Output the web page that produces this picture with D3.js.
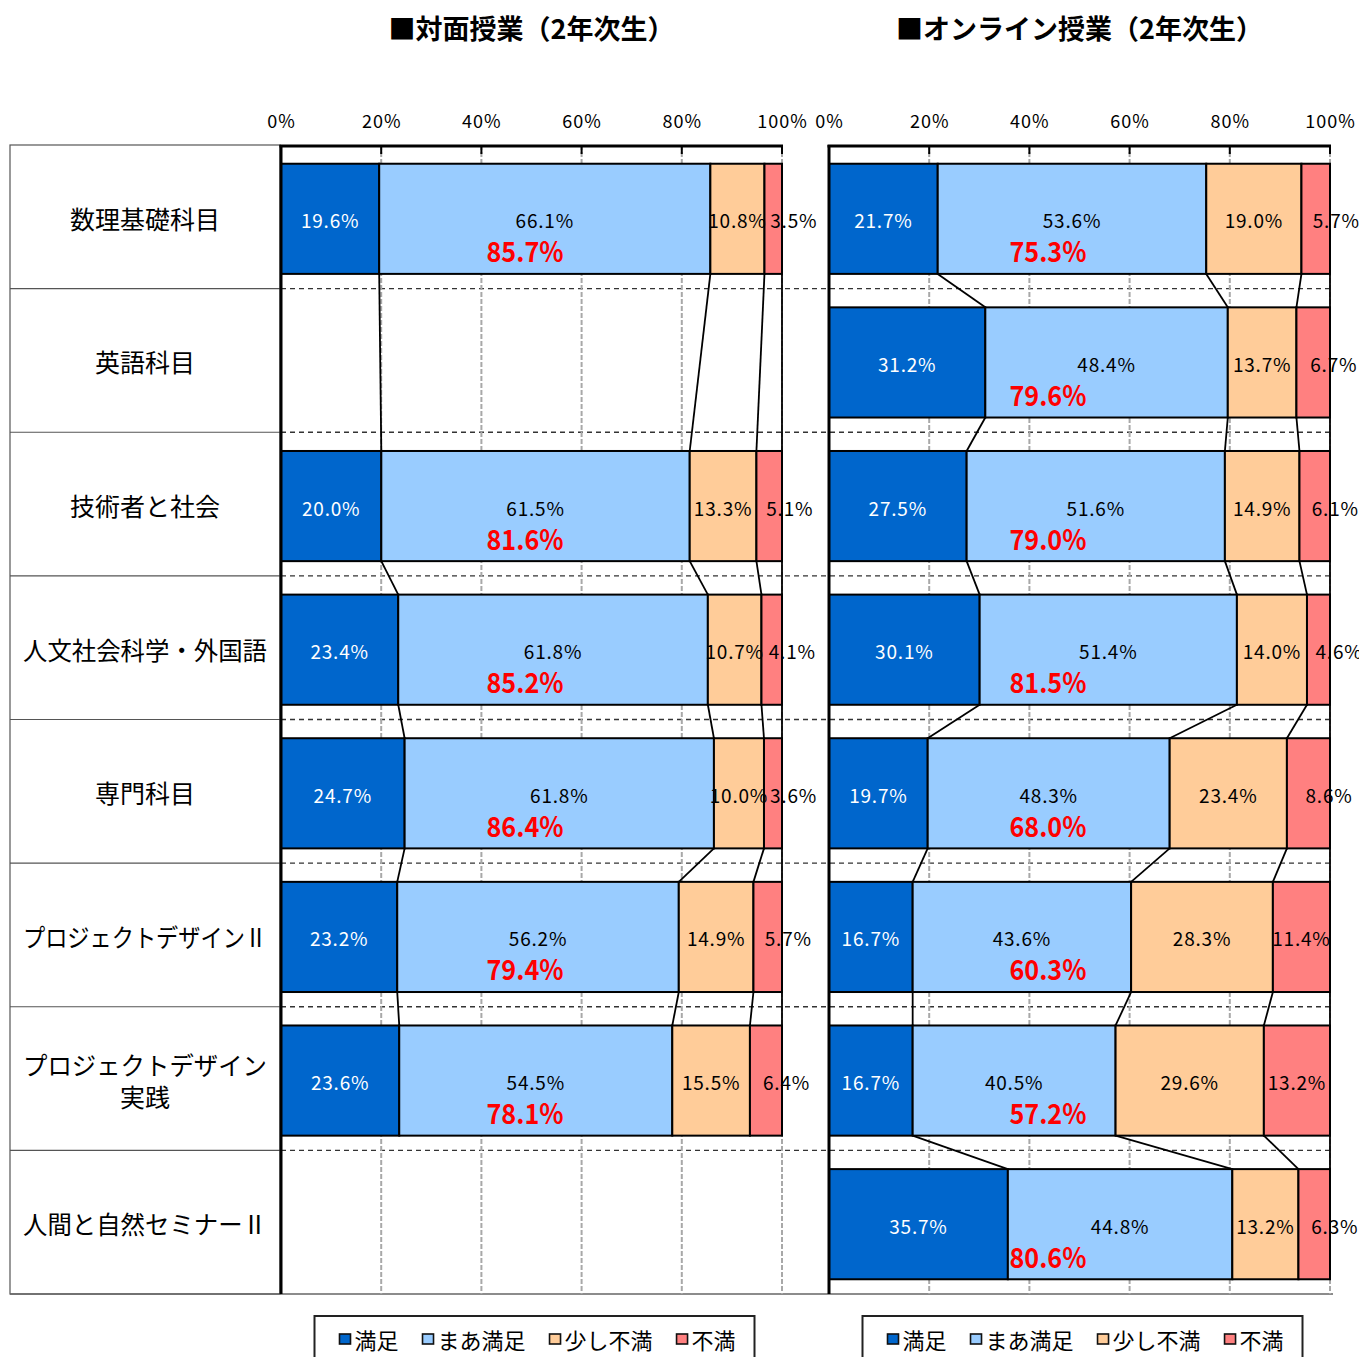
<!DOCTYPE html>
<html>
<head>
<meta charset="utf-8">
<script src="https://cdn.jsdelivr.net/npm/d3@7"></script>
<style>
  body { margin: 0; background: #fff; }
  svg { display: block; }
  text { font-family: "Noto Sans CJK JP", "Noto Sans", sans-serif; }
</style>
</head>
<body>
<svg id="chart" width="1359" height="1357"></svg>
<script>
// ---- data ----
const categories = [
  "数理基礎科目", "英語科目", "技術者と社会", "人文社会科学・外国語",
  "専門科目", "プロジェクトデザインⅡ", "プロジェクトデザイン\n実践", "人間と自然セミナーⅡ"
];
const seriesNames = ["満足", "まあ満足", "少し不満", "不満"];
const seriesColors = ["#0066CC", "#99CCFF", "#FFCC99", "#FF8080"];
const tickValues = [0, 0.2, 0.4, 0.6, 0.8, 1];

// 対面授業 (face-to-face), one row per category, null = no responses
const faceToFace = [
  [19.6, 66.1, 10.8, 3.5],
  null,
  [20.0, 61.5, 13.3, 5.1],
  [23.4, 61.8, 10.7, 4.1],
  [24.7, 61.8, 10.0, 3.6],
  [23.2, 56.2, 14.9, 5.7],
  [23.6, 54.5, 15.5, 6.4],
  null
];
const faceToFaceSatisfied = [85.7, null, 81.6, 85.2, 86.4, 79.4, 78.1, null];

// オンライン授業 (online)
const online = [
  [21.7, 53.6, 19.0, 5.7],
  [31.2, 48.4, 13.7, 6.7],
  [27.5, 51.6, 14.9, 6.1],
  [30.1, 51.4, 14.0, 4.6],
  [19.7, 48.3, 23.4, 8.6],
  [16.7, 43.6, 28.3, 11.4],
  [16.7, 40.5, 29.6, 13.2],
  [35.7, 44.8, 13.2, 6.3]
];
const onlineSatisfied = [75.3, 79.6, 79.0, 81.5, 68.0, 60.3, 57.2, 80.6];

// ---- layout ----
const svg = d3.select("#chart");
const plotTop = 145, plotBottom = 1294;
const tableLeft = 10, tableRight = 280;

const y = d3.scaleBand()
  .domain(categories)
  .range([plotTop + 2, plotBottom + 2])
  .paddingInner(0.233)
  .paddingOuter(0.1165);
const step = y.step();
const bw = y.bandwidth();
const rowEdge = i => plotTop + step * i;

const panels = [
  { title: "■対面授業（2年次生）", values: faceToFace, satisfied: faceToFaceSatisfied,
    range: [281, 782], totalAt: 0.487 },
  { title: "■オンライン授業（2年次生）", values: online, satisfied: onlineSatisfied,
    range: [829, 1330], totalAt: 0.437 }
];

// ---- category table on the left ----
const table = svg.append("g");
table.append("rect")
  .attr("x", tableLeft).attr("y", plotTop)
  .attr("width", tableRight - tableLeft).attr("height", plotBottom - plotTop)
  .attr("fill", "none").attr("stroke", "#555").attr("stroke-width", 1.2);
for (let i = 1; i < categories.length; i++) {
  table.append("line")
    .attr("x1", tableLeft).attr("x2", 281)
    .attr("y1", rowEdge(i)).attr("y2", rowEdge(i))
    .attr("stroke", "#555").attr("stroke-width", 1.2);
}
const maxLabel = tableRight - tableLeft - 26;
categories.forEach((c, i) => {
  const lines = c.split("\n");
  const cy = rowEdge(i) + step / 2 + 1;
  lines.forEach((ln, j) => {
    const t = table.append("text")
      .attr("x", 145)
      .attr("y", cy + (j - (lines.length - 1) / 2) * 32)
      .attr("text-anchor", "middle")
      .attr("dominant-baseline", "central")
      .attr("font-size", 25).attr("fill", "#000")
      .text(ln);
    // keep long names inside their cell
    if (t.node().getComputedTextLength() > maxLabel) {
      t.attr("textLength", maxLabel).attr("lengthAdjust", "spacingAndGlyphs");
    }
  });
});

// dashed separators running across both plots
const sep = svg.append("g");
for (let i = 1; i < categories.length; i++) {
  sep.append("line")
    .attr("x1", 281).attr("x2", 1333)
    .attr("y1", rowEdge(i)).attr("y2", rowEdge(i))
    .attr("stroke", "#333").attr("stroke-width", 1.4)
    .attr("stroke-dasharray", "5,4");
}
// bottom rule
svg.append("line")
  .attr("x1", tableLeft).attr("x2", 1333)
  .attr("y1", plotBottom).attr("y2", plotBottom)
  .attr("stroke", "#666").attr("stroke-width", 1.5);

// ---- panels ----
panels.forEach(p => {
  const x = d3.scaleLinear().domain([0, 1]).range(p.range);
  const g = svg.append("g");
  const cx = (p.range[0] + p.range[1]) / 2;

  // title
  g.append("text")
    .attr("x", cx).attr("y", 27)
    .attr("text-anchor", "middle").attr("dominant-baseline", "central")
    .attr("font-size", 27).attr("font-weight", "bold")
    .text(p.title);

  // vertical gridlines
  g.append("g").selectAll("line")
    .data(tickValues.slice(1))
    .join("line")
    .attr("x1", d => x(d)).attr("x2", d => x(d))
    .attr("y1", plotTop).attr("y2", plotBottom)
    .attr("stroke", "#a8a8a8").attr("stroke-width", 2)
    .attr("stroke-dasharray", "5,2");

  // top axis
  const axis = d3.axisTop(x)
    .tickValues(tickValues)
    .tickFormat(d3.format(".0%"))
    .tickSize(0)
    .tickPadding(0);
  const ax = g.append("g")
    .attr("transform", `translate(0,${plotTop})`)
    .call(axis);
  ax.select(".domain").remove();
  ax.selectAll(".tick text")
    .attr("y", -17)
    .attr("font-size", 18)
    .attr("letter-spacing", 1)
    .attr("font-family", "\"Noto Sans CJK JP\", sans-serif")
    .attr("fill", "#000");

  // stacked 100% bars
  const rows = p.values
    .map((v, i) => ({ cat: categories[i], v, total: p.satisfied[i] }))
    .filter(d => d.v);
  const stack = d3.stack()
    .keys(seriesNames)
    .value((d, key) => d.v[seriesNames.indexOf(key)])
    .offset(d3.stackOffsetExpand);
  const layers = stack(rows);

  const bars = g.append("g");
  layers.forEach((layer, k) => {
    bars.append("g").selectAll("rect")
      .data(layer)
      .join("rect")
      .attr("x", d => x(d[0]))
      .attr("y", d => y(d.data.cat))
      .attr("width", d => x(d[1]) - x(d[0]))
      .attr("height", bw)
      .attr("fill", seriesColors[k])
      .attr("stroke", "#000").attr("stroke-width", 2);
  });

  // series lines joining consecutive bars
  const links = g.append("g");
  layers.forEach(layer => {
    for (let r = 0; r < layer.length - 1; r++) {
      const a = layer[r], b = layer[r + 1];
      links.append("line")
        .attr("x1", x(a[1])).attr("y1", y(a.data.cat) + bw)
        .attr("x2", x(b[1])).attr("y2", y(b.data.cat))
        .attr("stroke", "#000").attr("stroke-width", 1.8);
    }
  });

  // frame: top border, left axis, tick marks
  g.append("line")
    .attr("x1", x(0) - 1.5).attr("x2", x(1) + 1)
    .attr("y1", plotTop + 1).attr("y2", plotTop + 1)
    .attr("stroke", "#000").attr("stroke-width", 3);
  g.append("line")
    .attr("x1", x(0)).attr("x2", x(0))
    .attr("y1", plotTop).attr("y2", plotBottom)
    .attr("stroke", "#000").attr("stroke-width", 3);
  g.append("g").selectAll("line")
    .data(tickValues.slice(1))
    .join("line")
    .attr("x1", d => x(d)).attr("x2", d => x(d))
    .attr("y1", plotTop).attr("y2", plotTop + 9)
    .attr("stroke", "#000").attr("stroke-width", 2);

  // value labels
  const labels = g.append("g");
  layers.forEach((layer, k) => {
    layer.forEach(d => {
      const val = d.data.v[k];
      const x0 = x(d[0]), x1 = x(d[1]);
      const mid = (x0 + x1) / 2;
      // labels of thin end segments start at the segment centre
      const narrow = (k === seriesNames.length - 1) && val < 10;
      labels.append("text")
        .attr("x", narrow ? mid - 3 : mid)
        .attr("y", y(d.data.cat) + bw / 2 + 1)
        .attr("text-anchor", narrow ? "start" : "middle")
        .attr("dominant-baseline", "central")
        .attr("font-size", 19)
        .attr("letter-spacing", 0.8)
        .attr("fill", k === 0 ? "#fff" : "#000")
        .text(val.toFixed(1) + "%");
    });
  });
  // satisfied share (満足 + まあ満足) in red
  rows.forEach(d => {
    const tx = x(p.totalAt), ty = y(d.cat) + bw * 0.785;
    labels.append("text")
      .attr("transform", `translate(${tx},${ty}) scale(0.9,1)`)
      .attr("text-anchor", "middle")
      .attr("dominant-baseline", "central")
      .attr("font-size", 28)
      .attr("font-weight", "bold")
      .attr("fill", "#FF0000")
      .text(d.total.toFixed(1) + "%");
  });

  // legend
  const lg = g.append("g");
  const boxW = 440;
  lg.append("rect")
    .attr("x", cx + 3 - boxW / 2).attr("y", 1316)
    .attr("width", boxW).attr("height", 60)
    .attr("fill", "#fff").attr("stroke", "#222").attr("stroke-width", 2);
  let lx = cx + 3 - boxW / 2 + 25;
  seriesNames.forEach((name, k) => {
    lg.append("rect")
      .attr("x", lx).attr("y", 1334)
      .attr("width", 11).attr("height", 10)
      .attr("fill", seriesColors[k])
      .attr("stroke", "#111").attr("stroke-width", 1.6);
    const t = lg.append("text")
      .attr("x", lx + 15).attr("y", 1339)
      .attr("dominant-baseline", "central")
      .attr("font-size", 22)
      .text(name);
    lx += 15 + t.node().getComputedTextLength() + 24;
  });
});
</script>
</body>
</html>
